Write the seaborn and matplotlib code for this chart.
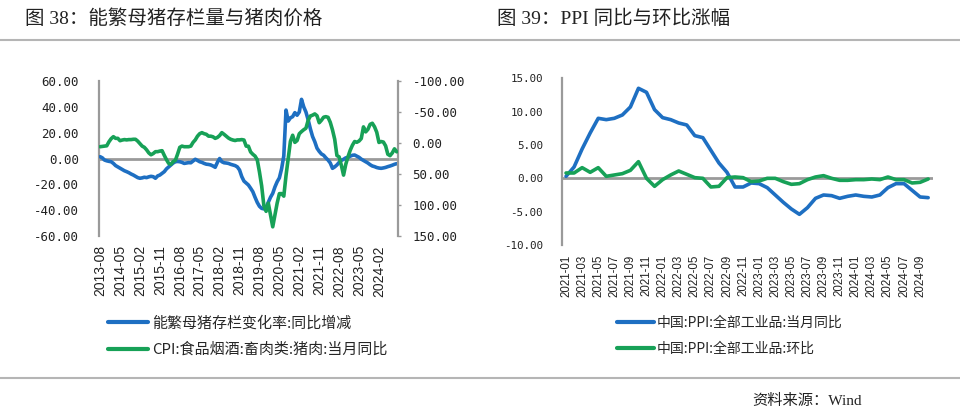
import numpy as np
import pandas as pd
import matplotlib
matplotlib.use("Agg")
import matplotlib.pyplot as plt
from matplotlib.lines import Line2D
import seaborn as sns

# ---------------- data ----------------
# Left chart: monthly, 2013-08 .. 2024-10
sow_start = "2013-08"
sow_yoy = [1.4, 0.5, -1.2, -1.8, -2.2, -2.5, -3.8, -5.5, -6.5, -7.5,
           -8.5, -9.5, -10.2, -11.0, -12.0, -12.8, -13.8, -14.8, -15.3, -15.0,
           -14.5, -14.8, -14.2, -13.8, -14.1, -15.3, -13.5, -12.8, -11.5, -10.2,
           -8.0, -6.5, -5.0, -3.5, -2.5, -2.3, -2.5, -3.0, -3.8, -3.5,
           -3.2, -3.3, -2.0, -0.6, -1.5, -2.5, -3.0, -3.8, -4.4, -4.6,
           -5.0, -5.8, -6.8, -3.0, 0.0, -2.5, -3.3, -3.5, -3.8, -4.5,
           -5.0, -5.5, -6.5, -8.9, -14.0, -17.5, -19.0, -20.5, -23.0, -25.7,
           -30.0, -34.0, -37.0, -38.6, -39.0, -37.8, -34.0, -30.0, -27.0, -22.0,
           -18.0, -15.0, -8.0, 2.0, 37.5, 29.0, 31.5, 32.4, 35.5, 33.5,
           36.0, 45.8, 40.0, 36.0, 30.0, 23.0, 17.0, 13.0, 8.0, 5.5,
           3.5, 2.5, 0.5, -1.2, -3.5, -7.6, -6.5, -5.0, -3.0, -1.5,
           -0.6, 0.5, 0.9, 1.8, 2.5, 2.7, 1.8, 0.9, -0.5, -1.5,
           -2.5, -3.5, -4.8, -5.8, -6.3, -7.0, -7.4, -7.6, -7.3, -6.9,
           -6.3, -5.8, -5.2, -4.5, -4.0]
pork_cpi_yoy = [6.0, 5.5, 5.0, 4.5, -2.0, -7.0, -10.2, -7.5, -7.5, -3.7,
                -4.8, -5.5, -5.0, -5.5, -5.5, -6.0, -6.0, -3.0, 1.0, 5.0,
                7.0, 11.0, 16.0, 19.0, 17.0, 14.0, 14.0, 13.0, 12.4, 20.0,
                27.0, 33.0, 34.4, 30.0, 28.0, 18.0, 7.0, 5.0, 6.0, 6.0,
                6.0, 5.0, -1.0, -5.0, -11.0, -15.0, -16.7, -15.0, -14.0, -11.0,
                -11.0, -10.0, -7.5, -9.0, -12.0, -16.7, -14.0, -11.0, -8.0, -6.0,
                -4.8, -4.0, -5.0, -5.0, -5.5, -4.8, 5.1, 5.1, 14.4, 18.2,
                21.1, 27.0, 46.7, 69.3, 101.3, 110.2, 97.0, 116.0, 135.2, 116.4,
                96.9, 81.7, 81.6, 85.7, 52.6, 25.5, -2.8, -12.5, -1.0, -3.9,
                -14.9, -18.4, -21.4, -23.8, -36.5, -43.5, -44.9, -46.9, -44.0, -32.7,
                -36.7, -41.6, -42.5, -41.4, -33.3, -21.1, -6.0, 20.2, 22.4, 36.0,
                51.8, 34.4, 22.2, 11.8, 3.6, -2.4, -1.2, -3.2, -7.2, -26.0,
                -17.9, -22.0, -30.1, -31.8, -26.1, -17.3, -0.9, -2.4, -1.5, 4.6,
                18.1, 20.4, 16.1, 9.4, 14.2]
left_xticklabels = ["2013-08", "2014-05", "2015-02", "2015-11", "2016-08",
                    "2017-05", "2018-02", "2018-11", "2019-08", "2020-05",
                    "2021-02", "2021-11", "2022-08", "2023-05", "2024-02"]
left_yticks = [60, 40, 20, 0, -20, -40, -60]
right_yticks_left_chart = [-100, -50, 0, 50, 100, 150]

# Right chart: monthly, 2021-01 .. 2024-10
ppi_start = "2021-01"
ppi_yoy = [0.3, 1.7, 4.4, 6.8, 9.0, 8.8, 9.0, 9.5, 10.7, 13.5, 12.9, 10.3,
           9.1, 8.8, 8.3, 8.0, 6.4, 6.1, 4.2, 2.3, 0.9, -1.3, -1.3, -0.7,
           -0.8, -1.4, -2.5, -3.6, -4.6, -5.4, -4.4, -3.0, -2.5, -2.6, -3.0, -2.7,
           -2.5, -2.7, -2.8, -2.5, -1.4, -0.8, -0.8, -1.8, -2.8, -2.9]
ppi_mom = [0.8, 0.8, 1.6, 0.9, 1.6, 0.3, 0.5, 0.7, 1.2, 2.5, 0.0, -1.2,
           -0.2, 0.5, 1.1, 0.6, 0.1, 0.0, -1.3, -1.2, 0.1, 0.2, 0.1, -0.5,
           -0.4, 0.0, 0.0, -0.5, -0.9, -0.8, -0.2, 0.2, 0.4, 0.0, -0.3, -0.3,
           -0.2, -0.2, -0.1, -0.2, 0.2, -0.2, -0.2, -0.7, -0.6, -0.1]
ppi_yticks = [15, 10, 5, 0, -5, -10]

left_labels = ["能繁母猪存栏变化率:同比增减", "CPI:食品烟酒:畜肉类:猪肉:当月同比"]
right_labels = ["中国:PPI:全部工业品:当月同比", "中国:PPI:全部工业品:环比"]
title_left = "图 38：能繁母猪存栏量与猪肉价格"
title_right = "图 39：PPI 同比与环比涨幅"
source_text = "资料来源：Wind"

# ---------------- style ----------------
sns.set_style("white")
plt.rcParams["font.family"] = ["Noto Sans CJK SC", "DejaVu Sans"]
plt.rcParams["axes.unicode_minus"] = False

BLUE = "#1E6FC2"
GREEN = "#17A157"
GREY = "#9a9a9a"
TXT = "#222222"
MONO = "DejaVu Sans Mono"
SANS = "Liberation Sans"
W, H = 960, 417

left_months = list(pd.period_range(sow_start, periods=len(sow_yoy), freq="M").strftime("%Y-%m"))
right_months = list(pd.period_range(ppi_start, periods=len(ppi_yoy), freq="M").strftime("%Y-%m"))
df_left = pd.DataFrame({"month": left_months, "pos": np.arange(len(left_months)),
                        "sow": sow_yoy, "pork": pork_cpi_yoy})
df_right = pd.DataFrame({"month": right_months, "pos": np.arange(len(right_months)),
                         "yoy": ppi_yoy, "mom": ppi_mom})

fig = plt.figure(figsize=(W / 100, H / 100), dpi=100)


def box(x0, y0, x1, y1):
    return [x0 / W, 1 - y1 / H, (x1 - x0) / W, (y1 - y0) / H]


# ---------------- left chart ----------------
ax1 = fig.add_axes(box(99, 81, 398, 236))
ax2 = ax1.twinx()
ax1.axhline(0, color=GREY, lw=2.0, zorder=1)
sns.lineplot(data=df_left, x="pos", y="sow", ax=ax1, color=BLUE, linewidth=2.6, legend=False, zorder=3)
sns.lineplot(data=df_left, x="pos", y="pork", ax=ax2, color=GREEN, linewidth=2.6, legend=False, zorder=3)
ax1.set_xlim(-0.5, 134.6)
ax1.set_ylim(-60, 60)
ax2.set_ylim(150, -100)
ax1.set_yticks(left_yticks)
ax1.set_yticklabels([f"{v:.2f}" for v in left_yticks], fontfamily=MONO, fontsize=9, color=TXT)
ax2.set_yticks(right_yticks_left_chart)
ax2.set_yticklabels([f"{v:.2f}" for v in right_yticks_left_chart], fontfamily=MONO, fontsize=9, color=TXT)
xt = [left_months.index(m) for m in left_xticklabels]
ax1.set_xticks(xt)
ax1.set_xticklabels(left_xticklabels, rotation=90, fontfamily=SANS, fontsize=10, color=TXT)
ax1.tick_params(axis="x", length=0, pad=6.5)
ax1.tick_params(axis="y", length=0, pad=14.4)
ax2.tick_params(axis="y", length=2.5, width=1, color=GREY, pad=8, direction="out")
for a in (ax1, ax2):
    a.set_xlabel("")
    a.set_ylabel("")
    for s in a.spines.values():
        s.set_visible(False)
ax1.spines["left"].set_visible(True)
ax1.spines["left"].set_color(GREY)
ax1.spines["left"].set_linewidth(1.6)
ax2.spines["right"].set_visible(True)
ax2.spines["right"].set_color(GREY)
ax2.spines["right"].set_linewidth(1.6)
ax1.patch.set_visible(False)

# ---------------- right chart ----------------
ax3 = fig.add_axes(box(562, 78.3, 933, 245))
ax3.axhline(0, color=GREY, lw=2.0, zorder=1)
sns.lineplot(data=df_right, x="pos", y="yoy", ax=ax3, color=BLUE, linewidth=2.6, legend=False, zorder=3)
sns.lineplot(data=df_right, x="pos", y="mom", ax=ax3, color=GREEN, linewidth=2.6, legend=False, zorder=3)
ax3.set_xlim(-0.5, 45.6)
ax3.set_ylim(-10, 15)
ax3.set_yticks(ppi_yticks)
ax3.set_yticklabels([f"{v:.2f}" for v in ppi_yticks], fontfamily=MONO, fontsize=7.8, color=TXT)
rt = list(range(0, len(right_months) - 1, 2))
ax3.set_xticks(rt)
ax3.set_xticklabels([right_months[i] for i in rt], rotation=90, fontfamily=SANS, fontsize=8.3, color=TXT)
ax3.tick_params(axis="x", length=0, pad=7)
ax3.tick_params(axis="y", length=0, pad=13.7)
ax3.set_xlabel("")
ax3.set_ylabel("")
for s in ax3.spines.values():
    s.set_visible(False)
ax3.spines["left"].set_visible(True)
ax3.spines["left"].set_color(GREY)
ax3.spines["left"].set_linewidth(1.6)

# ---------------- legends ----------------
lh = [Line2D([], [], color=BLUE, lw=3), Line2D([], [], color=GREEN, lw=3)]
fig.legend(lh, left_labels, loc="upper left", bbox_to_anchor=(108 / W, 1 - 316 / H),
           frameon=False, fontsize=10.8, handlelength=2.65, handletextpad=0.27,
           labelspacing=0.8, borderpad=0, borderaxespad=0)
fig.legend(lh, right_labels, loc="upper left", bbox_to_anchor=(617 / W, 1 - 316 / H),
           frameon=False, fontsize=10, handlelength=2.65, handletextpad=0.22,
           labelspacing=0.85, borderpad=0, borderaxespad=0)

# ---------------- titles, rules, footer ----------------
fam = ["Liberation Serif", "Noto Sans CJK SC"]
fig.text(25 / W, 1 - 18.5 / H, title_left, family=fam, fontsize=14, va="center", ha="left", color=TXT)
fig.text(497 / W, 1 - 18.5 / H, title_right, family=fam, fontsize=14, va="center", ha="left", color=TXT)
fig.add_artist(Line2D([0, 1], [1 - 40 / H, 1 - 40 / H], color="#b5b5b5", lw=1.5))
fig.add_artist(Line2D([0, 1], [1 - 378 / H, 1 - 378 / H], color="#b5b5b5", lw=1.5))
fig.text(752 / W, 1 - 401 / H, source_text, family=fam, fontsize=11, va="center", ha="left", color=TXT)

fig.savefig("out.png", dpi=100)
